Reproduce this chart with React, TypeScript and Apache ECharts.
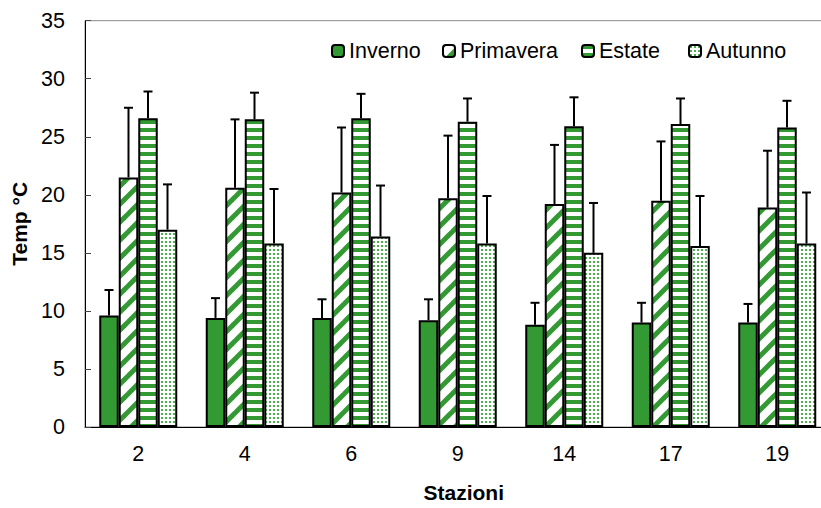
import React, { useEffect, useRef } from "react";
import * as echarts from "echarts";

const stations = ["2", "4", "6", "9", "14", "17", "19"];
const seasons = ["Inverno", "Primavera", "Estate", "Autunno"];

const inverno = [9.6, 9.4, 9.4, 9.2, 8.8, 9.0, 9.0];
const primavera = [21.5, 20.6, 20.2, 19.7, 19.2, 19.5, 18.9];
const estate = [26.6, 26.5, 26.6, 26.3, 25.9, 26.1, 25.8];
const autunno = [17.0, 15.8, 16.4, 15.8, 15.0, 15.6, 15.8];

const invernoErr = [2.2, 1.7, 1.6, 1.8, 1.9, 1.7, 1.6];
const primaveraErr = [6.0, 5.9, 5.6, 5.4, 5.1, 5.1, 4.9];
const estateErr = [2.3, 2.3, 2.1, 2.0, 2.5, 2.2, 2.3];
const autunnoErr = [3.9, 4.7, 4.4, 4.1, 4.3, 4.3, 4.4];

const yTicks = { min: 0, max: 35, interval: 5 };

const GREEN = "#339933";
const FONT = "'Liberation Sans', Arial, sans-serif";

function makeCanvas(w: number, h: number, draw: (ctx: CanvasRenderingContext2D) => void) {
  const c = document.createElement("canvas");
  c.width = w;
  c.height = h;
  const ctx = c.getContext("2d")!;
  ctx.fillStyle = "#ffffff";
  ctx.fillRect(0, 0, w, h);
  draw(ctx);
  return c;
}

function diagPattern() {
  const T = 18;
  const c = makeCanvas(T, T, (ctx) => {
    ctx.strokeStyle = GREEN;
    ctx.lineWidth = 5;
    for (let k = -1; k <= 3; k++) {
      const cc = k * T;
      ctx.beginPath();
      ctx.moveTo(cc + T, -T);
      ctx.lineTo(cc - 2 * T, 2 * T);
      ctx.stroke();
    }
  });
  return { image: c, repeat: "repeat", imageWidth: T, imageHeight: T } as any;
}

function horizPattern() {
  const c = makeCanvas(8, 8, (ctx) => {
    ctx.fillStyle = GREEN;
    ctx.fillRect(0, 0, 8, 4);
  });
  return { image: c, repeat: "repeat", imageWidth: 8, imageHeight: 8 } as any;
}

function dotPattern() {
  const c = makeCanvas(4, 4, (ctx) => {
    ctx.fillStyle = "#4fae4f";
    ctx.fillRect(1, 1, 2, 2);
  });
  return { image: c, repeat: "repeat", imageWidth: 4, imageHeight: 4 } as any;
}

export default function App() {
  const ref = useRef<HTMLDivElement>(null);

  useEffect(() => {
    if (!ref.current) return;
    const chart = echarts.init(ref.current, undefined, { renderer: "svg" });

    const values = [inverno, primavera, estate, autunno];
    const errs = [invernoErr, primaveraErr, estateErr, autunnoErr];
    const fills: any[] = [GREEN, diagPattern(), horizPattern(), dotPattern()];
    const barW = 19.5;
    const legendLeft = [331, 442, 581, 688];

    const barSeries = seasons.map((name, i) => ({
      name,
      type: "bar",
      data: values[i],
      barWidth: barW,
      barGap: "0%",
      itemStyle: { color: fills[i], borderColor: "#000", borderWidth: 2 },
      z: 2,
    }));

    const errSeries = seasons.map((name, i) => ({
      name: "err-" + name,
      type: "custom",
      z: 3,
      encode: { x: 0, y: [1, 2] },
      data: values[i].map((v, j) => [j, v, v + errs[i][j]]),
      renderItem: (params: any, api: any) => {
        const ci = api.value(0);
        const v = api.value(1);
        const t = api.value(2);
        const p0 = api.coord([ci, v]);
        const p1 = api.coord([ci, t]);
        const x = p0[0] + (i - 1.5) * barW;
        return {
          type: "group",
          children: [
            { type: "line", shape: { x1: x, y1: p0[1], x2: x, y2: p1[1] }, style: { stroke: "#000", lineWidth: 2 } },
            { type: "line", shape: { x1: x - 4.5, y1: p1[1], x2: x + 4.5, y2: p1[1] }, style: { stroke: "#000", lineWidth: 2 } },
          ],
        };
      },
    }));

    chart.setOption({
      animation: false,
      grid: {
        left: 85,
        top: 20.7,
        width: 745.5,
        height: 407.3,
        show: true,
        borderColor: "#8a8a8a",
        borderWidth: 1,
        backgroundColor: "transparent",
      },
      legend: seasons.map((name, i) => ({
        data: [name],
        left: legendLeft[i],
        top: 40,
        padding: 0,
        itemWidth: 12,
        itemHeight: 12,
        textStyle: { fontFamily: FONT, fontSize: 21.5, color: "#000" },
        selectedMode: false,
      })),
      xAxis: {
        type: "category",
        data: stations,
        name: "Stazioni",
        nameLocation: "middle",
        nameGap: 55,
        nameTextStyle: { fontFamily: FONT, fontSize: 21, fontWeight: "bold", color: "#000", padding: [0, 0, 0, 12] },
        axisLine: { lineStyle: { color: "#000", width: 1 } },
        axisTick: { inside: true, length: 6, lineStyle: { color: "#444" } },
        axisLabel: { fontFamily: FONT, fontSize: 21.5, color: "#000", margin: 16 },
      },
      yAxis: {
        type: "value",
        min: yTicks.min,
        max: yTicks.max,
        interval: yTicks.interval,
        name: "Temp °C",
        nameLocation: "middle",
        nameRotate: 90,
        nameGap: 51,
        nameTextStyle: { fontFamily: FONT, fontSize: 21, fontWeight: "bold", color: "#000" },
        axisLine: { show: true, lineStyle: { color: "#000", width: 1 } },
        axisTick: { show: true, inside: true, length: 6, lineStyle: { color: "#444" } },
        axisLabel: { fontFamily: FONT, fontSize: 21.5, color: "#000", margin: 20 },
        splitLine: { show: false },
      },
      series: [...barSeries, ...errSeries],
    } as any);

    return () => chart.dispose();
  }, []);

  return (
    <div
      style={{ position: "fixed", left: 0, top: 0, width: 821, height: 508, overflow: "hidden", background: "#fff" }}
    >
      <div ref={ref} style={{ width: 850, height: 508 }} />
    </div>
  );
}
